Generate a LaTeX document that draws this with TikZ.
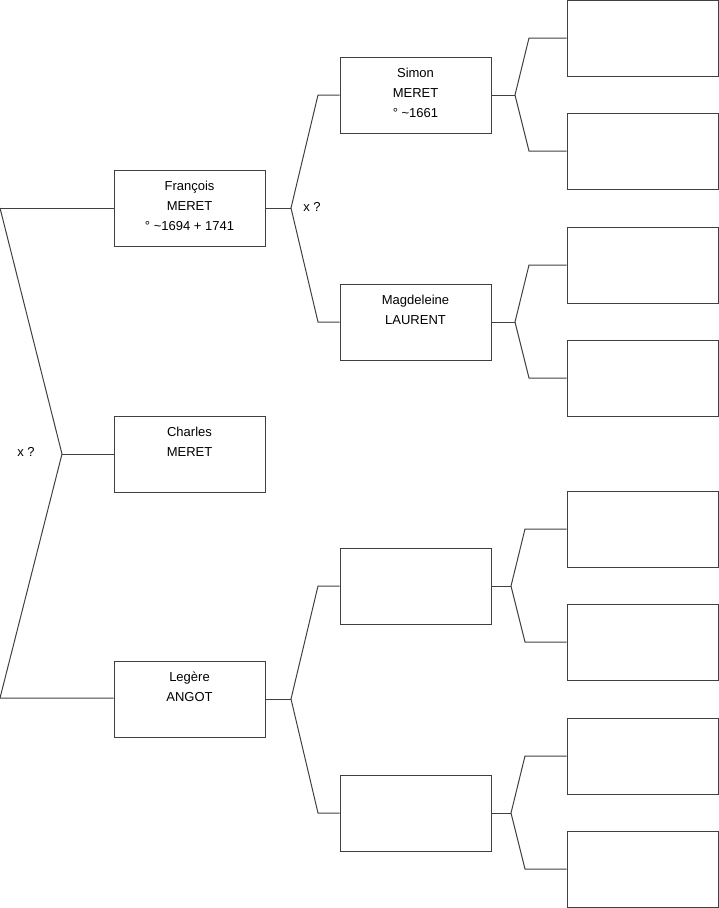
\documentclass[tikz,border=0pt]{standalone}
\usepackage{fontspec}
\setmainfont{Liberation Sans}
\tikzset{
  pbox/.style={draw=black!75, line width=1pt, rectangle, minimum width=151pt, minimum height=76pt, inner sep=0pt},
  ln/.style={draw=black!75, line width=1pt},
  ptext/.style={font=\fontsize{13}{16}\selectfont, inner sep=0pt, anchor=base},
}
\begin{document}
\begin{tikzpicture}[x=1pt,y=-1pt]
\useasboundingbox (0,0) rectangle (719,908);
% column 1
\node[pbox] (f) at (189.5,208) {};
\node[pbox] (c) at (189.5,454) {};
\node[pbox] (l) at (189.5,699) {};
% column 2
\node[pbox] (s) at (415.5,95) {};
\node[pbox] (m) at (415.5,322) {};
\node[pbox] (e1) at (415.5,586) {};
\node[pbox] (e2) at (415.5,813) {};
% column 3
\node[pbox] (r1) at (642.5,38) {};
\node[pbox] (r2) at (642.5,151) {};
\node[pbox] (r3) at (642.5,265) {};
\node[pbox] (r4) at (642.5,378) {};
\node[pbox] (r5) at (642.5,529) {};
\node[pbox] (r6) at (642.5,642) {};
\node[pbox] (r7) at (642.5,756) {};
\node[pbox] (r8) at (642.5,869) {};
% texts
\node[ptext] (f1) at ([yshift=-21pt]f.north) {François};
\node[ptext] (f2) at ([yshift=-41pt]f.north) {MERET};
\node[ptext] (f3) at ([yshift=-61pt]f.north) {° \textasciitilde 1694 + 1741};
\node[ptext] (c1) at ([yshift=-21pt]c.north) {Charles};
\node[ptext] (c2) at ([yshift=-41pt]c.north) {MERET};
\node[ptext] (l1) at ([yshift=-21pt]l.north) {Legère};
\node[ptext] (l2) at ([yshift=-41pt]l.north) {ANGOT};
\node[ptext] (s1) at ([yshift=-21pt]s.north) {Simon};
\node[ptext] (s2) at ([yshift=-41pt]s.north) {MERET};
\node[ptext] (s3) at ([yshift=-61pt]s.north) {° \textasciitilde 1661};
\node[ptext] (m1) at ([yshift=-21pt]m.north) {Magdeleine};
\node[ptext] (m2) at ([yshift=-41pt]m.north) {LAURENT};
% fork points
\coordinate (k0) at (0,208);
\coordinate (k1) at (62,454);
\coordinate (k2) at (0,698);
\coordinate (fa) at (291,208);
\coordinate (fb) at (318,95);
\coordinate (fc) at (318,322);
\coordinate (la) at (291,699);
\coordinate (lb) at (318,586);
\coordinate (lc) at (318,813);
\coordinate (sa) at (515,95);
\coordinate (sb) at (529,38);
\coordinate (sc) at (529,151);
\coordinate (ma) at (515,322);
\coordinate (mb) at (529,265);
\coordinate (mc) at (529,378);
\coordinate (ea) at (511,586);
\coordinate (eb) at (525,529);
\coordinate (ec) at (525,642);
\coordinate (ga) at (511,813);
\coordinate (gb) at (525,756);
\coordinate (gc) at (525,869);
% connectors
\draw[ln] (k0) -- (f.west);
\draw[ln] (k0) -- (k1) -- (k2) -- (l.west |- k2);
\draw[ln] (k1) -- (c.west);
\draw[ln] (f.east) -- (fa);
\draw[ln] (s.west) -- (fb) -- (fa) -- (fc) -- (m.west);
\draw[ln] (l.east) -- (la);
\draw[ln] (e1.west) -- (lb) -- (la) -- (lc) -- (e2.west);
\draw[ln] (s.east) -- (sa);
\draw[ln] (r1.west) -- (sb) -- (sa) -- (sc) -- (r2.west);
\draw[ln] (m.east) -- (ma);
\draw[ln] (r3.west) -- (mb) -- (ma) -- (mc) -- (r4.west);
\draw[ln] (e1.east) -- (ea);
\draw[ln] (r5.west) -- (eb) -- (ea) -- (ec) -- (r6.west);
\draw[ln] (e2.east) -- (ga);
\draw[ln] (r7.west) -- (gb) -- (ga) -- (gc) -- (r8.west);
% labels
\node[ptext, anchor=center] (x1) at (312,207) {x ?};
\node[ptext, anchor=center] (x2) at (26,452) {x ?};
\end{tikzpicture}
\end{document}
